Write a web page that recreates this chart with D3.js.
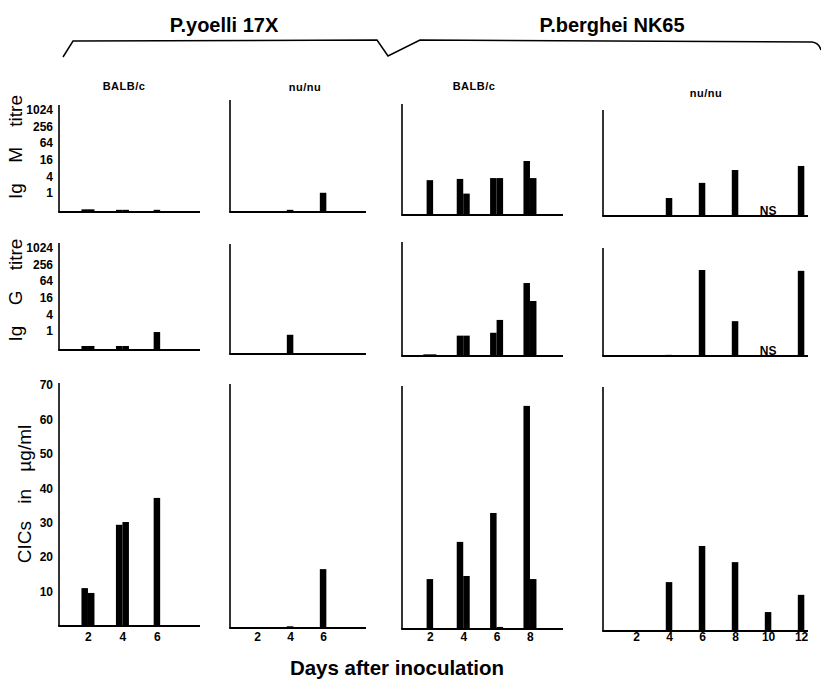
<!DOCTYPE html>
<html><head><meta charset="utf-8">
<script src="https://cdn.jsdelivr.net/npm/d3@7/dist/d3.min.js"></script>
<style>body{margin:0;background:#fff} svg{display:block}</style>
</head><body><svg id="c" width="821" height="685"></svg>
<script>
// ---------------- data ----------------
const groupTitles = ["P.yoelli 17X", "P.berghei NK65"];
const hostLabels = ["BALB/c", "nu/nu", "BALB/c", "nu/nu"];
const rowTitles = ["Ig M titre", "Ig G titre", "CICs in µg/ml"];
const titreTicks = [1, 4, 16, 64, 256, 1024];
const cicTicks = [10, 20, 30, 40, 50, 60, 70];
const xAxisTitle = "Days after inoculation";

// P.yoelli 17X, BALB/c
const daysYB = [2, 4, 6];
const igmYB = [[0.25, 0.25], [0.24, 0.24], [0.24]];
const iggYB = [[0.28, 0.28], [0.28, 0.28], [0.9]];
const cicYB = [[11, 9.6], [29.4, 30.2], [37.2]];
const dayTicksYB = [2, 4, 6];

// P.yoelli 17X, nu/nu
const daysYN = [4, 6];
const igmYN = [[0.24], [1]];
const iggYN = [[1], []];
const cicYN = [[0.5], [17.1]];
const dayTicksYN = [2, 4, 6];

// P.berghei NK65, BALB/c
const daysBB = [2, 4, 6, 8];
const igmBB = [[3.7], [4.1, 1.2], [4.4, 4.4], [18.4, 4.4]];
const iggBB = [[0.23, 0.23], [1.1, 1.1], [1.4, 4.1], [90, 20]];
const cicBB = [[14.5], [25.3, 15.4], [33.7, 0.6], [64.8, 14.5]];
const dayTicksBB = [2, 4, 6, 8];

// P.berghei NK65, nu/nu
const daysBN = [4, 6, 8, 10, 12];
const igmBN = [[0.9], [3.2], [9.4], [], [13.2]];
const iggBN = [[0.22], [268], [3.7], [], [250]];
const cicBN = [[14.2], [24.7], [20], [5.5], [10.5]];
const dayTicksBN = [2, 4, 6, 8, 10, 12];
const nsDaysBN = [10];

// ---------------- layout ----------------
const svg = d3.select("#c");
const FONT = "'Liberation Sans', Arial, Helvetica, sans-serif";
const NARROW = "'Liberation Sans Narrow', 'Liberation Sans', Arial, sans-serif";

const cols = [
  {x0: 59, x1: 200, dom: [0.32, 8.5], days: daysYB, ticks: dayTicksYB, data: [igmYB, iggYB, cicYB], ns: []},
  {x0: 230, x1: 366, dom: [0.36, 8.6], days: daysYN, ticks: dayTicksYN, data: [igmYN, iggYN, cicYN], ns: []},
  {x0: 402, x1: 563, dom: [0.33, 9.98], days: daysBB, ticks: dayTicksBB, data: [igmBB, iggBB, cicBB], ns: []},
  {x0: 603, x1: 808, dom: [0, 12.42], days: daysBN, ticks: dayTicksBN, data: [igmBN, iggBN, cicBN], ns: nsDaysBN}
];
const rows = [
  {log: true, base: [212, 212, 215, 216], top: [105, 100, 104, 110], tcenter: 147},
  {log: true, base: [350, 354, 356, 356], top: [243, 244, 242, 248], tcenter: 290},
  {log: false, base: [626, 628, 629, 631], top: [383, 384, 386, 387], tcenter: 494}
];

const BW = 6.5;

rows.forEach((row, ri) => {
  cols.forEach((col, ci) => {
    const base = row.base[ci];
    const x = d3.scaleLinear().domain(col.dom).range([col.x0, col.x1]);
    const y = row.log
      ? d3.scaleLog().base(2).domain([0.2, 1024]).range([base, base - 102]).clamp(true)
      : d3.scaleLinear().domain([0, 70]).range([base, base - 241]);
    const g = svg.append("g");

    // bars
    const vals = col.data[ri];
    col.days.forEach((d, i) => {
      const arr = vals[i] || [];
      const n = arr.length;
      arr.forEach((v, j) => {
        const bx = x(d) - n * BW / 2 + j * BW;
        g.append("rect")
          .attr("x", bx).attr("width", BW)
          .attr("y", y(v)).attr("height", Math.max(0, base - y(v)))
          .attr("fill", "#000");
      });
    });

    // axes lines
    g.append("line").attr("x1", col.x0).attr("x2", col.x0)
      .attr("y1", base).attr("y2", row.top[ci])
      .attr("stroke", "#000").attr("stroke-width", 1.6);
    g.append("line").attr("x1", col.x0 - 0.8).attr("x2", col.x1)
      .attr("y1", base).attr("y2", base)
      .attr("stroke", "#000").attr("stroke-width", 2);

    // y tick labels on first column
    if (ci === 0) {
      const ax = d3.axisLeft(y).tickSize(0).tickPadding(6)
        .tickValues(row.log ? titreTicks : cicTicks).tickFormat(d3.format("d"));
      const ag = svg.append("g").attr("transform", `translate(${col.x0},0)`).call(ax);
      ag.select(".domain").remove();
      ag.selectAll("text").attr("font-family", NARROW).attr("font-weight", "bold")
        .attr("font-size", 12).attr("fill", "#000");
    }

    // x tick labels on bottom row
    if (ri === 2) {
      const ax = d3.axisBottom(x).tickSize(0).tickPadding(632 - base)
        .tickValues(col.ticks).tickFormat(d3.format("d"));
      const ag = svg.append("g").attr("transform", `translate(0,${base})`).call(ax);
      ag.select(".domain").remove();
      ag.selectAll("text").attr("font-family", NARROW).attr("font-weight", "bold")
        .attr("font-size", 12).attr("fill", "#000");
    }

    // NS markers
    if (ri < 2) {
      col.ns.forEach(d => {
        g.append("text").attr("x", x(d)).attr("y", base - 1)
          .attr("text-anchor", "middle").attr("font-family", FONT)
          .attr("font-weight", "bold").attr("font-size", 12).text("NS");
      });
    }
  });

  // row title
  const tx = ri === 2 ? 31 : 22;
  svg.append("text")
    .attr("transform", `translate(${tx},${row.tcenter}) rotate(-90)`)
    .attr("text-anchor", "middle")
    .attr("font-family", NARROW).attr("font-size", 19)
    .attr("style", `word-spacing:${ri === 2 ? 12 : 15}px`)
    .text(rowTitles[ri]);
});

// group titles and bracket
const titleX = [224, 612];
groupTitles.forEach((t, i) => {
  svg.append("text").attr("x", titleX[i]).attr("y", 32)
    .attr("text-anchor", "middle").attr("font-family", FONT)
    .attr("font-weight", "bold").attr("font-size", 20).text(t);
});
svg.append("path")
  .attr("d", "M63,57 L73,41 L377,40 L388,56 L420,40 L812,42 Q819,43 821,50")
  .attr("fill", "none").attr("stroke", "#000").attr("stroke-width", 1.5);

// host labels
const hostX = [124, 305, 474, 706];
const hostY = [90, 91, 90, 97];
hostLabels.forEach((t, i) => {
  svg.append("text").attr("x", hostX[i]).attr("y", hostY[i])
    .attr("text-anchor", "middle").attr("font-family", FONT)
    .attr("font-weight", "bold").attr("font-size", 11)
    .attr("letter-spacing", 0.5).text(t);
});

// x-axis title
svg.append("text").attr("x", 397).attr("y", 675)
  .attr("text-anchor", "middle").attr("font-family", FONT)
  .attr("font-weight", "bold").attr("font-size", 20.5).text(xAxisTitle);
</script>
</body></html>
